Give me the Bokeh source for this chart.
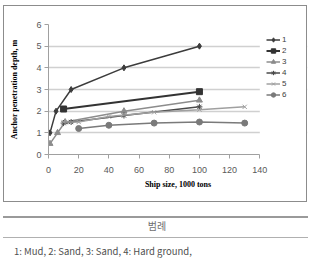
from bokeh.plotting import figure
from bokeh.models import Range1d, Legend, LegendItem, FixedTicker, Div, BoxAnnotation
from bokeh.layouts import column
from bokeh.embed import file_html
from bokeh.resources import INLINE

# ---- data ----
x1 = [1, 5, 15, 50, 100]
y1 = [1.0, 2.0, 3.0, 4.0, 5.0]
x2 = [10, 100]
y2 = [2.1, 2.9]
x3 = [1, 6, 11, 50, 100]
y3 = [0.5, 1.0, 1.5, 2.0, 2.5]
x4 = [10, 15, 50, 100]
y4 = [1.45, 1.5, 1.8, 2.2]
x5 = [10, 20, 40, 70, 100, 130]
y5 = [1.5, 1.5, 1.75, 1.95, 2.07, 2.2]
x6 = [20, 40, 70, 100, 130]
y6 = [1.2, 1.35, 1.45, 1.5, 1.45]
series_names = ["1", "2", "3", "4", "5", "6"]
x_ticks = [0, 20, 40, 60, 80, 100, 120, 140]
y_ticks = [0, 1, 2, 3, 4, 5, 6]
x_title = "Ship size, 1000 tons"
y_title = "Anchor penetration depth, m"
legend_heading = "범례"
legend_text = "1: Mud, 2: Sand, 3: Sand, 4: Hard ground,"

X_MAX = 140
# frame extends to the right so that the legend sits inside it
p = figure(width=310, height=205, output_backend="svg", toolbar_location=None,
           x_range=Range1d(0, 171.6), y_range=Range1d(0, 6),
           min_border_left=48, min_border_right=3, min_border_top=24, min_border_bottom=51)
p.outline_line_color = None
p.background_fill_color = "white"
p.border_fill_color = "white"
p.margin = 0

p.xgrid.grid_line_color = None
p.ygrid.grid_line_color = "#d0d0d0"
p.ygrid.grid_line_width = 1.5
# hide grid lines beyond the last x tick (legend area)
p.add_layout(BoxAnnotation(left=X_MAX, fill_color="white", fill_alpha=1,
                           line_alpha=0, level="underlay"))

for ax in (p.xaxis[0], p.yaxis[0]):
    ax.axis_line_color = "#a0a0a0"
    ax.major_tick_line_color = "#a0a0a0"
    ax.minor_tick_line_color = None
    ax.major_tick_in = 0
    ax.major_tick_out = 4
    ax.major_label_text_font = "Liberation Sans"
    ax.major_label_text_font_size = "9px"
    ax.major_label_text_color = "#595959"
    ax.axis_label_text_font = "Liberation Serif"
    ax.axis_label_text_font_style = "bold"
    ax.axis_label_text_font_size = "8px"
    ax.axis_label_text_color = "#000000"

p.xaxis.bounds = (0, X_MAX)
p.xaxis.ticker = FixedTicker(ticks=x_ticks)
p.yaxis.ticker = FixedTicker(ticks=y_ticks)
p.xaxis.axis_label = x_title
p.yaxis.axis_label = y_title
p.xaxis.major_label_standoff = 8
p.xaxis.axis_label_standoff = 4
p.yaxis.major_label_standoff = 3
p.yaxis.axis_label_standoff = 14

r1 = [p.line(x1, y1, line_color="#3c3c3c", line_width=1.5),
      p.scatter(x1, y1, marker="diamond", size=6, color="#3c3c3c")]
r2 = [p.line(x2, y2, line_color="#333333", line_width=2),
      p.scatter(x2, y2, marker="square", size=6, color="#333333")]
r3 = [p.line(x3, y3, line_color="#8c8c8c", line_width=1.5),
      p.scatter(x3, y3, marker="triangle", size=6, color="#8c8c8c")]
r4 = [p.line(x4, y4, line_color="#4a4a4a", line_width=1.5),
      p.scatter(x4, y4, marker="asterisk", size=6, color="#4a4a4a", line_width=1)]
r5 = [p.line(x5, y5, line_color="#a0a0a0", line_width=1.5),
      p.scatter(x5, y5, marker="x", size=6, color="#a0a0a0", line_width=1)]
r6 = [p.line(x6, y6, line_color="#7a7a7a", line_width=1.5),
      p.scatter(x6, y6, marker="circle", size=6, color="#7a7a7a")]

legend = Legend(items=[LegendItem(label=n, renderers=r) for n, r in
                       zip(series_names, [r1, r2, r3, r4, r5, r6])],
                location=(218, 54), padding=0, margin=0, spacing=0,
                border_line_color=None, background_fill_alpha=0,
                glyph_width=14, glyph_height=11, label_height=11,
                label_standoff=2, label_text_font="Liberation Sans",
                label_text_font_size="8px", label_text_color="#404040")
p.add_layout(legend)

html = f"""
<div style="position:relative;width:314px;height:56px;font-family:'Noto Sans CJK KR','Noto Sans',sans-serif;overflow:visible;">
  <div style="position:absolute;left:3px;top:-200px;width:304px;height:197px;box-sizing:border-box;border:1.5px solid #8c8c8c;pointer-events:none;"></div>
  <div style="position:absolute;left:3px;top:11px;width:305px;height:2px;background:#9a9a9a;"></div>
  <div style="position:absolute;left:0;top:15px;width:314px;text-align:center;font-size:10px;line-height:12px;color:#707070;">{legend_heading}</div>
  <div style="position:absolute;left:3px;top:32px;width:305px;height:1px;background:#b0b0b0;"></div>
  <div style="position:absolute;left:14px;top:40px;font-size:9.5px;line-height:12px;color:#505050;white-space:nowrap;">{legend_text}</div>
</div>
"""
d = Div(text=html, width=314, height=56, margin=0, styles={"overflow": "visible"})

layout = column(p, d, spacing=0, margin=0)
open("out.html", "w").write(file_html(layout, INLINE))
